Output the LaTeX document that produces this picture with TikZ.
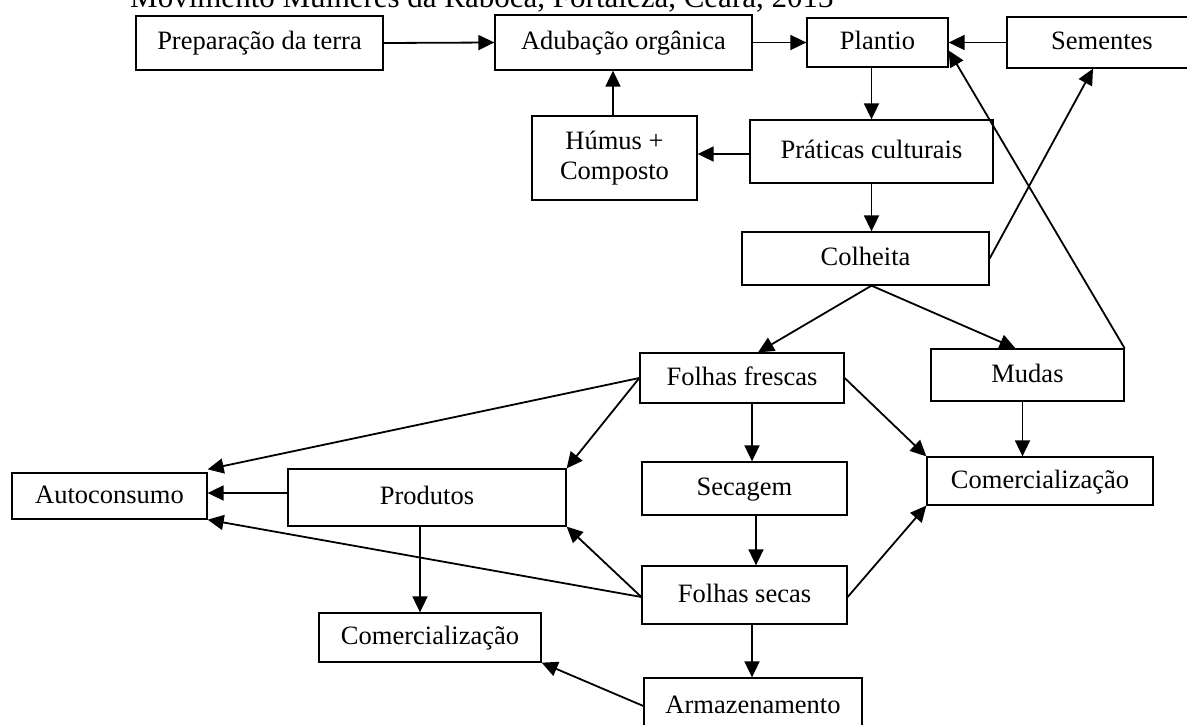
\documentclass[tikz,border=0pt]{standalone}
\usepackage{fontspec}
\setmainfont{Liberation Serif}
\usetikzlibrary{arrows.meta,calc}
\newcommand{\dfont}{\fontsize{26.5}{30}\selectfont}
\newcommand{\tfont}{\fontsize{31}{34}\selectfont}
\begin{document}
\begin{tikzpicture}[x=1pt,y=-1pt,
 box/.style={draw,line width=1.3pt,inner sep=0pt,align=center,font=\dfont},
 onebox/.style={box,text height=18pt,text depth=4pt},
 arr/.style={line width=1.8pt,-{Triangle[length=16pt,width=15pt]}}]
\useasboundingbox (0,0) rectangle (1187,725);
\node[anchor=base west,inner sep=0pt,font=\tfont] (title) at (130,8) {Movimento Mulheres da Raboca, Fortaleza, Ceará, 2013};
\node[onebox,minimum width=247pt,minimum height=54pt] (prep) at (259.5,43) {Preparação da terra};
\node[onebox,minimum width=257pt,minimum height=55pt] (adub) at (623.5,42.5) {Adubação orgânica};
\node[onebox,minimum width=141pt,minimum height=49pt] (plant) at (877.5,42.5) {Plantio};
\node[onebox,minimum width=190pt,minimum height=51pt] (sem) at (1102,42.5) {Sementes};
\node[box,minimum width=165pt,minimum height=84pt] (humus) at (614.5,158) {Húmus +\\Composto};
\node[onebox,minimum width=243pt,minimum height=63pt] (prat) at (871.5,151.5) {Práticas culturais};
\node[onebox,minimum width=247pt,minimum height=53pt] (colh) at (865.5,258.5) {Colheita};
\node[onebox,minimum width=204pt,minimum height=50pt] (ffres) at (742,378) {Folhas frescas};
\node[onebox,minimum width=193pt,minimum height=52pt] (mudas) at (1027.5,375) {Mudas};
\node[onebox,minimum width=226pt,minimum height=48pt] (comR) at (1040,481) {Comercialização};
\node[onebox,minimum width=205pt,minimum height=53pt] (sec) at (744.5,488.5) {Secagem};
\node[onebox,minimum width=205pt,minimum height=58pt] (fsec) at (744.5,595) {Folhas secas};
\node[onebox,minimum width=218pt,minimum height=56pt] (arm) at (753,706) {Armazenamento};
\node[onebox,minimum width=278pt,minimum height=57pt] (prod) at (427,497.5) {Produtos};
\node[onebox,minimum width=195pt,minimum height=46pt] (auto) at (109.5,496) {Autoconsumo};
\node[onebox,minimum width=222pt,minimum height=49pt] (comL) at (430,637.5) {Comercialização};

\draw[arr] (prep.east) -- (adub.west);
\draw[arr] (adub.east) -- (plant.west);
\draw[arr] (sem.west) -- (plant.east);
\draw[arr] ([xshift=-1.5pt]humus.north) -- ([xshift=-1.5pt]humus.north |- adub.south);
\draw[arr] ([yshift=-2.5pt]prat.west) -- ([yshift=-2.5pt]prat.west -| humus.east);
\draw[arr] (prat.north |- plant.south) -- (prat.north);
\draw[arr] (prat.south) -- (prat.south |- colh.north);
\draw[arr] ([xshift=6pt]colh.south) -- ([xshift=16pt]ffres.north);
\draw[arr] ([xshift=6pt]colh.south) -- ([xshift=-12pt]mudas.north);
\draw[arr] (colh.east) -- ([xshift=-9pt]sem.south);
\draw[arr] (mudas.north east) -- ([yshift=-8pt]plant.east);
\draw[arr] ([xshift=-5pt]mudas.south) -- ([xshift=-5pt]mudas.south |- comR.north);
\draw[arr] (ffres.east) -- (comR.north west);
\draw[arr] ([xshift=10pt]ffres.south) -- ([xshift=10pt]ffres.south |- sec.north);
\draw[arr] ([xshift=11.5pt]sec.south) -- ([xshift=11.5pt]sec.south |- fsec.north);
\draw[arr] ([xshift=7.5pt]fsec.south) -- ([xshift=7.5pt]fsec.south |- arm.north);
\draw[arr] ([yshift=-2pt]fsec.east) -- (comR.south west);
\draw[arr] (ffres.west) -- ([yshift=3pt]auto.north east);
\draw[arr] (ffres.west) -- (prod.north east);
\draw[arr] ([yshift=4.5pt]prod.west) -- ([yshift=4.5pt]prod.west -| auto.east);
\draw[arr] ([yshift=-2pt]fsec.west) -- (prod.south east);
\draw[arr] ([yshift=-2pt]fsec.west) -- (auto.south east);
\draw[arr] ([xshift=-7pt]prod.south) -- ([xshift=-7pt]prod.south |- comL.north);
\draw[arr] (arm.west) -- (comL.south east);
\end{tikzpicture}
\end{document}
